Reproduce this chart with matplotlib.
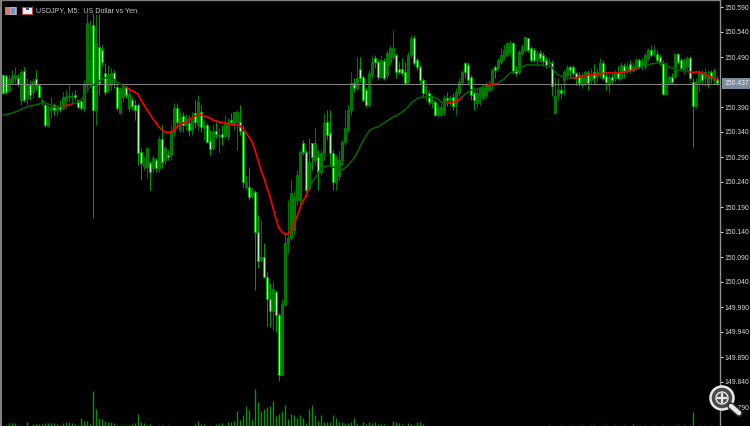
import matplotlib
matplotlib.use("Agg")
import matplotlib.pyplot as plt
from matplotlib.patches import Circle, Rectangle

# USDJPY M5 bars
opens = [150.454,150.452,150.422,150.440,150.448,150.448,150.404,150.462,150.408,150.434,
150.420,150.446,150.434,150.400,150.394,150.352,150.384,150.394,150.384,150.390,
150.388,150.404,150.410,150.410,150.414,150.404,150.402,150.388,150.434,150.444,
150.554,150.384,150.510,150.504,150.458,150.424,150.434,150.458,150.430,150.378,
150.410,150.430,150.388,150.404,150.394,150.394,150.300,150.272,150.270,150.278,
150.268,150.284,150.268,150.326,150.284,150.294,150.294,150.340,150.388,150.344,
150.372,150.354,150.358,150.344,150.378,150.354,150.380,150.348,150.354,150.322,
150.308,150.342,150.332,150.336,150.332,150.332,150.364,150.356,150.360,150.360,
150.342,150.230,150.230,150.214,150.220,150.140,150.084,150.090,150.050,150.006,
149.982,150.020,149.974,149.854,149.994,150.118,150.128,150.144,150.204,150.204,
150.318,150.300,150.228,150.318,150.284,150.290,150.260,150.298,150.360,150.338,
150.298,150.240,150.252,150.284,150.320,150.344,150.384,150.438,150.428,150.466,
150.450,150.424,150.394,150.454,150.488,150.480,150.450,150.482,150.454,150.480,
150.490,150.494,150.466,150.466,150.460,150.440,150.494,150.528,150.484,150.470,
150.444,150.420,150.418,150.398,150.400,150.374,150.374,150.380,150.408,150.404,
150.410,150.398,150.418,150.440,150.478,150.474,150.450,150.418,150.398,150.414,
150.408,150.414,150.424,150.434,150.470,150.468,150.480,150.490,150.494,150.500,
150.518,150.466,150.460,150.498,150.504,150.528,150.508,150.504,150.484,150.498,
150.494,150.484,150.478,150.478,150.378,150.414,150.424,150.444,150.454,150.470,
150.470,150.458,150.454,150.434,150.438,150.458,150.444,150.460,150.452,150.454,
150.478,150.452,150.434,150.450,150.448,150.460,150.448,150.472,150.462,150.476,
150.464,150.468,150.484,150.472,150.470,150.488,150.504,150.498,150.496,150.490,
150.478,150.416,150.438,150.450,150.450,150.496,150.484,150.464,150.470,150.488,
150.440,150.392,150.440,150.456,150.448,150.434,150.460,150.444,150.446]
closes = [150.418,150.420,150.446,150.452,150.454,150.436,150.460,150.404,150.434,150.414,
150.442,150.434,150.410,150.404,150.354,150.370,150.390,150.384,150.392,150.386,
150.410,150.412,150.412,150.412,150.410,150.390,150.388,150.434,150.558,150.484,
150.384,150.518,150.438,150.480,150.420,150.454,150.458,150.444,150.388,150.424,
150.430,150.414,150.416,150.392,150.384,150.298,150.278,150.278,150.308,150.260,
150.288,150.268,150.326,150.280,150.308,150.290,150.340,150.388,150.360,150.368,
150.354,150.368,150.344,150.366,150.360,150.400,150.350,150.354,150.320,150.306,
150.342,150.336,150.334,150.330,150.356,150.360,150.360,150.380,150.380,150.342,
150.240,150.240,150.210,150.224,150.140,150.082,150.090,150.050,150.006,149.982,
150.026,149.974,149.854,149.996,150.118,150.128,150.218,150.208,150.254,150.300,
150.300,150.224,150.280,150.290,150.318,150.260,150.298,150.358,150.334,150.298,
150.240,150.288,150.284,150.320,150.348,150.384,150.438,150.428,150.448,150.448,
150.404,150.394,150.458,150.480,150.480,150.450,150.484,150.448,150.498,150.508,
150.508,150.460,150.460,150.458,150.438,150.494,150.528,150.478,150.470,150.444,
150.418,150.424,150.400,150.404,150.374,150.388,150.390,150.408,150.404,150.408,
150.392,150.420,150.440,150.460,150.460,150.444,150.414,150.404,150.418,150.428,
150.428,150.434,150.434,150.464,150.464,150.484,150.494,150.504,150.518,150.518,
150.460,150.458,150.500,150.510,150.530,150.504,150.484,150.484,150.498,150.488,
150.482,150.474,150.480,150.432,150.412,150.424,150.418,150.460,150.470,150.464,
150.458,150.448,150.438,150.450,150.460,150.438,150.454,150.448,150.460,150.478,
150.448,150.440,150.450,150.444,150.456,150.448,150.474,150.460,150.472,150.464,
150.472,150.484,150.470,150.480,150.494,150.504,150.494,150.504,150.484,150.478,
150.416,150.440,150.450,150.440,150.496,150.480,150.468,150.484,150.488,150.448,
150.392,150.440,150.460,150.444,150.460,150.450,150.448,150.464,150.438]
highs = [150.454,150.456,150.454,150.464,150.470,150.456,150.466,150.470,150.448,150.444,
150.448,150.464,150.436,150.408,150.398,150.394,150.410,150.398,150.394,150.404,
150.420,150.424,150.434,150.420,150.424,150.406,150.404,150.444,150.578,150.564,
150.578,150.576,150.576,150.514,150.478,150.474,150.468,150.464,150.438,150.430,
150.434,150.434,150.428,150.410,150.404,150.398,150.308,150.292,150.310,150.282,
150.294,150.288,150.332,150.354,150.312,150.304,150.354,150.398,150.398,150.380,
150.380,150.376,150.374,150.380,150.404,150.414,150.394,150.364,150.358,150.344,
150.354,150.360,150.348,150.354,150.374,150.368,150.378,150.380,150.384,150.394,
150.354,150.254,150.270,150.228,150.224,150.174,150.164,150.118,150.060,150.038,
150.040,150.024,149.978,150.006,150.134,150.204,150.244,150.224,150.264,150.304,
150.324,150.304,150.328,150.318,150.348,150.304,150.304,150.378,150.384,150.384,
150.304,150.294,150.304,150.324,150.384,150.394,150.460,150.448,150.490,150.490,
150.454,150.428,150.464,150.492,150.494,150.484,150.494,150.488,150.504,150.514,
150.544,150.498,150.480,150.488,150.480,150.500,150.534,150.534,150.488,150.474,
150.448,150.434,150.424,150.414,150.404,150.396,150.398,150.414,150.420,150.414,
150.418,150.428,150.448,150.464,150.480,150.480,150.454,150.424,150.428,150.432,
150.436,150.440,150.444,150.468,150.474,150.488,150.508,150.516,150.520,150.524,
150.520,150.472,150.504,150.516,150.530,150.528,150.512,150.508,150.504,150.504,
150.500,150.490,150.488,150.484,150.450,150.448,150.434,150.464,150.474,150.474,
150.474,150.460,150.460,150.460,150.464,150.464,150.468,150.476,150.468,150.488,
150.484,150.460,150.456,150.458,150.464,150.472,150.480,150.478,150.480,150.484,
150.480,150.488,150.488,150.488,150.500,150.508,150.514,150.514,150.504,150.494,
150.484,150.480,150.454,150.458,150.496,150.498,150.488,150.488,150.492,150.492,
150.448,150.448,150.464,150.464,150.468,150.464,150.464,150.468,150.452]
lows = [150.416,150.416,150.420,150.434,150.438,150.432,150.394,150.400,150.394,150.404,
150.408,150.424,150.408,150.394,150.350,150.350,150.368,150.374,150.372,150.380,
150.384,150.388,150.400,150.398,150.404,150.388,150.384,150.380,150.424,150.434,
150.168,150.354,150.414,150.472,150.414,150.420,150.424,150.428,150.384,150.376,
150.400,150.408,150.380,150.384,150.364,150.274,150.244,150.264,150.248,150.224,
150.260,150.260,150.260,150.268,150.276,150.284,150.284,150.332,150.348,150.340,
150.340,150.344,150.332,150.334,150.348,150.344,150.340,150.324,150.320,150.294,
150.304,150.328,150.298,150.314,150.328,150.324,150.354,150.344,150.304,150.334,
150.228,150.224,150.204,150.208,150.024,150.068,150.080,150.048,149.952,149.950,
149.944,149.940,149.842,149.852,149.992,150.098,150.124,150.134,150.194,150.194,
150.294,150.214,150.224,150.264,150.274,150.224,150.254,150.284,150.324,150.274,
150.224,150.224,150.244,150.274,150.314,150.340,150.374,150.420,150.424,150.440,
150.400,150.390,150.390,150.448,150.468,150.444,150.448,150.444,150.448,150.474,
150.484,150.448,150.456,150.452,150.434,150.436,150.488,150.474,150.464,150.434,
150.408,150.404,150.394,150.388,150.372,150.370,150.370,150.374,150.392,150.392,
150.384,150.374,150.412,150.434,150.448,150.434,150.404,150.384,150.388,150.394,
150.404,150.408,150.420,150.424,150.448,150.464,150.476,150.484,150.490,150.492,
150.456,150.452,150.456,150.494,150.500,150.500,150.480,150.480,150.472,150.480,
150.472,150.468,150.472,150.412,150.376,150.404,150.408,150.414,150.444,150.448,
150.452,150.434,150.432,150.428,150.432,150.424,150.436,150.434,150.440,150.448,
150.444,150.424,150.418,150.436,150.440,150.444,150.444,150.448,150.456,150.458,
150.460,150.464,150.466,150.464,150.466,150.484,150.490,150.492,150.480,150.474,
150.414,150.414,150.434,150.436,150.446,150.476,150.464,150.456,150.464,150.444,
150.310,150.388,150.420,150.434,150.432,150.428,150.438,150.436,150.434]

# tick volume of each bar
volumes = [0,10,30,30,30,10,10,0,40,0,
20,20,20,20,30,30,30,30,20,15,
30,40,40,30,20,15,80,50,50,20,
350,170,80,70,50,40,40,30,15,10,
15,10,10,20,35,120,40,35,15,25,
0,0,15,10,0,15,0,0,0,0,
0,0,0,0,25,55,25,20,0,10,
0,25,20,30,10,40,45,50,150,60,
110,200,160,70,370,240,150,170,190,200,
250,100,120,150,210,70,120,110,80,110,
80,35,170,210,110,50,110,40,40,40,
110,80,45,45,30,30,40,80,20,15,
45,20,40,30,40,20,20,20,10,0,
50,40,30,20,10,30,20,10,40,40,
20,0,0,0,0,0,0,0,0,0,
0,0,0,0,0,0,0,0,0,0,
0,0,0,0,0,0,0,0,0,0,
0,0,0,0,0,0,0,0,0,0,
0,0,10,0,5,0,10,5,0,10,
10,5,15,10,5,5,10,15,5,0,
10,15,0,5,10,5,0,10,5,0,
20,0,10,5,10,5,0,15,5,5,
10,0,5,5,10,10,5,10,5,10,
140,5,10,0,10,5,10,0,5]

# moving average, one value per bar
ma = [150.374,150.375,150.376,150.378,150.380,150.382,150.385,150.388,150.390,150.392,
150.393,150.394,150.396,150.398,150.398,150.396,150.394,150.390,150.390,150.391,
150.392,150.393,150.394,150.396,150.398,150.400,150.404,150.412,150.422,150.430,
150.434,150.436,150.442,150.446,150.448,150.450,150.448,150.445,150.440,150.436,
150.432,150.430,150.426,150.422,150.420,150.416,150.404,150.394,150.384,150.376,
150.366,150.358,150.350,150.344,150.340,150.339,150.340,150.344,150.350,150.354,
150.358,150.360,150.364,150.368,150.372,150.374,150.374,150.372,150.370,150.368,
150.364,150.362,150.360,150.359,150.358,150.356,150.355,150.354,150.354,150.352,
150.346,150.338,150.330,150.320,150.304,150.284,150.264,150.248,150.228,150.210,
150.188,150.166,150.148,150.140,150.136,150.136,150.142,150.156,150.170,150.188,
150.202,150.212,150.228,150.240,150.248,150.258,150.266,150.270,150.272,150.272,
150.270,150.268,150.266,150.264,150.268,150.274,150.280,150.288,150.298,150.310,
150.322,150.332,150.342,150.346,150.349,150.350,150.354,150.358,150.362,150.366,
150.370,150.372,150.376,150.380,150.384,150.390,150.398,150.402,150.407,150.409,
150.410,150.410,150.410,150.410,150.409,150.406,150.400,150.396,150.398,150.398,
150.399,150.402,150.404,150.410,150.416,150.420,150.424,150.424,150.426,150.428,
150.430,150.432,150.434,150.436,150.436,150.437,150.442,150.446,150.452,150.458,
150.460,150.462,150.466,150.470,150.473,150.474,150.474,150.474,150.474,150.473,
150.473,150.472,150.472,150.470,150.460,150.454,150.452,150.450,150.449,150.448,
150.448,150.448,150.450,150.452,150.452,150.454,150.454,150.455,150.456,150.456,
150.457,150.458,150.458,150.458,150.458,150.458,150.459,150.460,150.461,150.462,
150.464,150.466,150.468,150.470,150.472,150.474,150.476,150.477,150.478,150.478,
150.478,150.474,150.470,150.468,150.466,150.464,150.463,150.462,150.461,150.460,
150.459,150.460,150.460,150.458,150.456,150.452,150.450,150.448,150.444]
# bar ranges where the average is drawn red, the rest is dark green
ma_red = [(20, 23), (41, 102), (148, 153), (161, 165), (190, 212), (229, 238)]

# 150.440 sits under the price tag in the picture so it is left out
price_ticks = [150.590,150.540,150.490,150.390,150.340,150.290,150.240,150.190,150.140,
150.090,150.040,149.990,149.940,149.890,149.840,149.790]
last_price = 150.437
title = "USDJPY, M5:  US Dollar vs Yen"

plt.rcParams["font.family"] = ["Liberation Sans", "DejaVu Sans"]
px = 0.72  # one pixel in points at dpi 100

fig = plt.figure(figsize=(7.5, 4.26), dpi=100, facecolor="black")
ax = fig.add_axes([0, 0, 720 / 750, 1], facecolor="black")
ax.set_xlim(-1, 239)
ax.set_ylim(149.752, 150.604)

bars = range(len(opens))

# wicks first, bodies on top
wick_col = ["#007800" if c >= o else "#009800" for o, c in zip(opens, closes)]
ax.vlines(bars, lows, highs, colors=wick_col, lw=px, zorder=2)

up = [i for i in bars if closes[i] >= opens[i]]
down = [i for i in bars if closes[i] < opens[i]]
ax.bar(up, [closes[i] - opens[i] for i in up], bottom=[opens[i] for i in up], width=0.5,
       facecolor="#007000", edgecolor="#007c00", lw=px, zorder=3)
ax.bar(down, [closes[i] - opens[i] for i in down], bottom=[opens[i] for i in down], width=0.5,
       facecolor="#a0ffa0", edgecolor="#00a800", lw=px, zorder=3)

# current price line
ax.axhline(last_price, color="#808080", lw=px, zorder=4)

# moving average, coloured piece by piece
for i in range(len(ma) - 1):
    red = any(a <= i < b for a, b in ma_red)
    ax.plot([i, i + 1], [ma[i], ma[i + 1]], color="#f00000" if red else "#006400",
            lw=1.25 if red else 1.1, solid_capstyle="round", zorder=5)

ax.set_yticks(price_ticks)
ax.set_yticklabels(["%.3f" % p for p in price_ticks])
ax.yaxis.tick_right()
ax.tick_params(axis="y", colors="#d8d8d8", labelsize=4.9, length=2.5, width=px, pad=1)
ax.set_xticks([])
ax.spines["bottom"].set_visible(False)
ax.spines["right"].set_color("#909090")
ax.spines["right"].set_linewidth(1)
ax.spines["left"].set_color("#808080")
ax.spines["left"].set_linewidth(2.2)
ax.spines["top"].set_color("#808080")
ax.spines["top"].set_linewidth(1)

# volume along the bottom
ax_vol = fig.add_axes([0, 0, 720 / 750, 1], facecolor="none")
ax_vol.set_xlim(-1, 239)
ax_vol.set_ylim(0, 4260)
ax_vol.axis("off")
ax_vol.vlines(bars, 0, volumes, colors="#108c10", lw=1.0)

# overlay in pixels: icons, title, price tag, zoom glass
top = fig.add_axes([0, 0, 1, 1], facecolor="none")
top.set_xlim(0, 750)
top.set_ylim(426, 0)
top.axis("off")

top.text(36, 10.5, title, color="#c8c8c8", fontsize=5.1, va="center")
top.add_patch(Rectangle((5, 7), 11, 7, fc="#e07070", ec="#d0d0d0", lw=0.4))
top.add_patch(Rectangle((10, 7), 5, 7, fc="#7090d0", ec="#d0d0d0", lw=0.4))
top.add_patch(Rectangle((22, 7), 10, 7, fc="#f0f0f0", ec="#c04040", lw=0.7))
top.add_patch(Rectangle((26, 7), 3, 3, fc="#2060a0", ec="none"))

top.add_patch(Rectangle((722, 78), 28, 10.5, fc="#7b8c9e", ec="none"))
top.text(724, 83.5, "%.3f" % last_price, color="#f2f2f2", fontsize=4.9, va="center")

top.plot([731, 739], [406, 413], color="#303030", lw=5.5, solid_capstyle="round")
top.plot([731, 739], [406, 413], color="#e8e8e8", lw=3.2, solid_capstyle="round")
top.add_patch(Circle((722, 398), 11.5, fc="#4a4a4a", ec="#e8e8e8", lw=1.8))
top.add_patch(Circle((722, 398), 6, fc="#4a4a4a", ec="#e8e8e8", lw=1.0))
top.plot([718, 726], [398, 398], color="#e8e8e8", lw=1.6)
top.plot([722, 722], [394, 402], color="#e8e8e8", lw=1.6)

fig.savefig("out.png", dpi=100, facecolor="black")
